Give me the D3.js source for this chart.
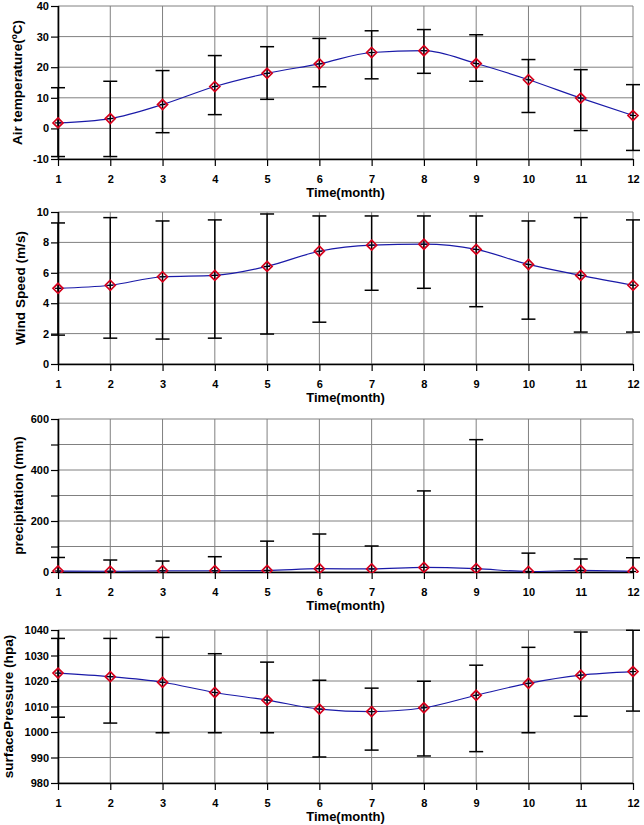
<!DOCTYPE html>
<html>
<head>
<meta charset="utf-8">
<script src="https://cdn.jsdelivr.net/npm/d3@7"></script>
<style>
  html, body { margin: 0; padding: 0; background: #fff; }
  svg { display: block; }
  text { font-family: Arial, "Liberation Sans", sans-serif; font-weight: bold; fill: #000; }
</style>
</head>
<body>
<div id="chart"></div>
<script>
// ---------------- data ----------------
const months = [1, 2, 3, 4, 5, 6, 7, 8, 9, 10, 11, 12];

const tempMean  = [1.8, 3.2, 7.8, 13.7, 18.0, 21.1, 24.8, 25.4, 21.2, 15.9, 9.9, 4.2];
const tempUpper = [13.3, 15.4, 18.9, 23.8, 26.7, 29.4, 31.9, 32.3, 30.6, 22.5, 19.2, 14.3];
const tempLower = [-9.2, -9.2, -1.4, 4.5, 9.5, 13.6, 16.2, 18.0, 15.4, 5.2, -0.7, -7.2];

const windMean  = [4.98, 5.18, 5.74, 5.83, 6.42, 7.42, 7.82, 7.88, 7.54, 6.55, 5.83, 5.18];
const windUpper = [9.28, 9.63, 9.41, 9.48, 9.87, 9.74, 9.74, 9.74, 9.74, 9.41, 9.63, 9.48];
const windLower = [1.90, 1.70, 1.64, 1.70, 1.97, 2.75, 4.85, 4.98, 3.77, 2.95, 2.10, 2.10];

const precMean  = [4, 3, 5, 5, 6, 13, 12, 18, 13, 2, 6, 2];
const precUpper = [57, 47, 43, 60, 121, 149, 102, 318, 519, 74, 51, 56];
const precLower = [-49, -41, -33, -50, -109, -123, -78, -282, -493, -70, -39, -52];

const presMean  = [1023.1, 1021.7, 1019.5, 1015.5, 1012.5, 1009.0, 1008.0, 1009.5, 1014.4, 1019.1, 1022.3, 1023.7];
const presUpper = [1036.7, 1036.7, 1037.1, 1030.7, 1027.4, 1020.3, 1017.2, 1019.9, 1026.2, 1033.2, 1039.2, 1039.9];
const presLower = [1005.8, 1003.5, 999.7, 999.7, 999.7, 990.2, 992.9, 990.6, 992.3, 999.7, 1006.2, 1008.2];

const tempTicks = [-10, 0, 10, 20, 30, 40];
const windTicks = [0, 2, 4, 6, 8, 10];
const precTicks = [0, 100, 200, 300, 400, 500, 600];
const precLabels = [0, 200, 400, 600];
const presTicks = [980, 990, 1000, 1010, 1020, 1030, 1040];

const xTitle = "Time(month)";

// ---------------- layout ----------------
const W = 644, H = 825;
const X0 = 58, X1 = 633;

const panels = [
  { label: "Air temperature(\u00baC)", mean: tempMean, upper: tempUpper, lower: tempLower,
    domain: [-10, 40], ticks: tempTicks, labels: tempTicks, top: 6, bottom: 159, labelX: 21.5 },
  { label: "Wind Speed (m/s)", mean: windMean, upper: windUpper, lower: windLower,
    domain: [0, 10], ticks: windTicks, labels: windTicks, top: 212, bottom: 364, labelX: 24.5 },
  { label: "precipitation (mm)", mean: precMean, upper: precUpper, lower: precLower,
    domain: [0, 600], ticks: precTicks, labels: precLabels, top: 419, bottom: 572, labelX: 22.5 },
  { label: "surfacePressure (hpa)", mean: presMean, upper: presUpper, lower: presLower,
    domain: [980, 1040], ticks: presTicks, labels: presTicks, top: 630, bottom: 783, labelX: 13 }
];

const svg = d3.select("#chart").append("svg")
  .attr("width", W).attr("height", H);
svg.append("rect").attr("width", W).attr("height", H).attr("fill", "#fff");

const x = d3.scaleLinear().domain([1, 12]).range([X0, X1]);

panels.forEach((p, i) => {
  const y = d3.scaleLinear().domain(p.domain).range([p.bottom, p.top]);
  const g = svg.append("g");

  const clipId = "clip" + i;
  svg.append("clipPath").attr("id", clipId)
    .append("rect").attr("x", 0).attr("width", W)
    .attr("y", p.top - 1).attr("height", p.bottom - p.top + 2);

  // gridlines
  g.append("g").selectAll("line.v").data(months).join("line")
    .attr("x1", d => x(d)).attr("x2", d => x(d))
    .attr("y1", p.top).attr("y2", p.bottom)
    .attr("stroke", "#808080").attr("stroke-width", 1);
  g.append("g").selectAll("line.h").data(p.ticks).join("line")
    .attr("x1", X0).attr("x2", X1)
    .attr("y1", d => y(d)).attr("y2", d => y(d))
    .attr("stroke", "#808080").attr("stroke-width", 1);

  // axes
  const yAxis = d3.axisLeft(y).tickValues(p.ticks)
    .tickFormat(d => p.labels.includes(d) ? d : "")
    .tickSize(7).tickPadding(2);
  const ya = g.append("g").attr("transform", `translate(${X0},0)`).call(yAxis);
  const xAxis = d3.axisBottom(x).tickValues(months).tickSize(7).tickPadding(9);
  const xa = g.append("g").attr("transform", `translate(0,${p.bottom})`).call(xAxis);
  [ya, xa].forEach(a => {
    a.select(".domain").attr("stroke", "#000").attr("stroke-width", 1.6);
    a.selectAll(".tick line").attr("stroke", "#000").attr("stroke-width", 1.2);
    a.selectAll("text").style("font-size", "11px").style("font-weight", "bold")
      .style("font-family", "Arial, 'Liberation Sans', sans-serif").attr("fill", "#000");
  });
  ya.select(".domain").attr("d", `M0.5,${p.bottom}V${p.top}`);
  xa.select(".domain").attr("d", `M${X0},0.5H${X1}`);

  // x title
  g.append("text").attr("x", (X0 + X1) / 2).attr("y", p.bottom + 38)
    .attr("text-anchor", "middle").style("font-size", "13px").text(xTitle);

  // y label
  g.append("text")
    .attr("transform", `translate(${p.labelX},${(p.top + p.bottom) / 2}) rotate(-90)`)
    .attr("text-anchor", "middle").style("font-size", "13.6px").text(p.label);

  const cg = g.append("g").attr("clip-path", `url(#${clipId})`);

  // error bars
  const eb = cg.append("g").attr("stroke", "#000").attr("stroke-width", 1.5).attr("fill", "none");
  months.forEach((m, k) => {
    const cx = x(m);
    eb.append("line").attr("x1", cx).attr("x2", cx)
      .attr("y1", y(p.upper[k])).attr("y2", y(p.lower[k]));
    eb.append("line").attr("x1", cx - 7).attr("x2", cx + 7)
      .attr("y1", y(p.upper[k])).attr("y2", y(p.upper[k]));
    eb.append("line").attr("x1", cx - 7).attr("x2", cx + 7)
      .attr("y1", y(p.lower[k])).attr("y2", y(p.lower[k]));
  });

  // mean line
  const line = d3.line().x((d, k) => x(months[k])).y(d => y(d)).curve(d3.curveMonotoneX);
  cg.append("path").datum(p.mean).attr("d", line)
    .attr("fill", "none").attr("stroke", "#1a1aa8").attr("stroke-width", 1.2);

  // markers
  const mk = cg.append("g");
  months.forEach((m, k) => {
    const cx = x(m), cy = y(p.mean[k]);
    mk.append("path")
      .attr("d", `M${cx},${cy - 5}L${cx + 5},${cy}L${cx},${cy + 5}L${cx - 5},${cy}Z`)
      .attr("fill", "none").attr("stroke", "#d4001c").attr("stroke-width", 1.7);
    mk.append("line").attr("x1", cx - 3).attr("x2", cx + 3).attr("y1", cy).attr("y2", cy)
      .attr("stroke", "#000").attr("stroke-width", 1.2);
  });
});
</script>
</body>
</html>
